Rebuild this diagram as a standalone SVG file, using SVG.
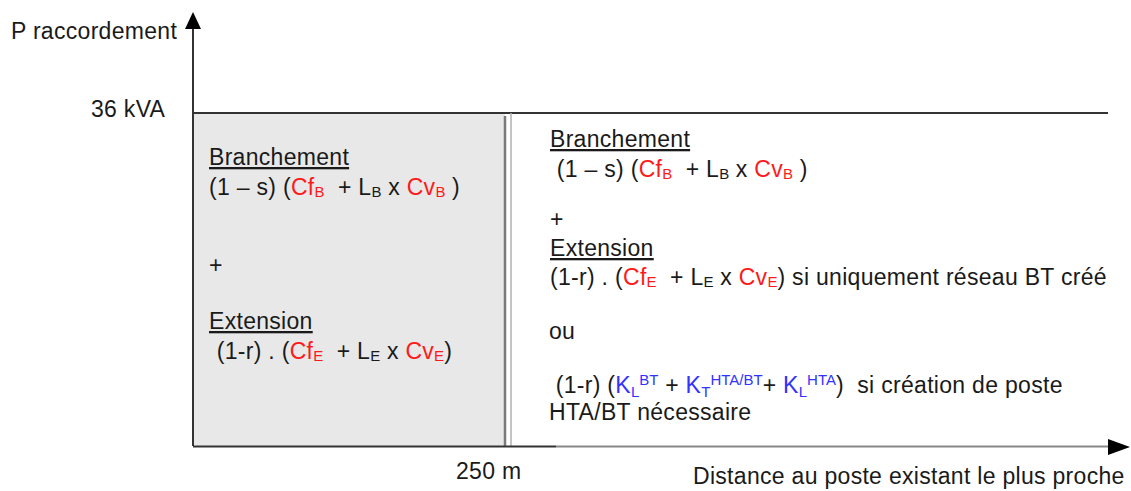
<svg xmlns="http://www.w3.org/2000/svg" width="1131" height="491" viewBox="0 0 1131 491">
<style>
text{font-family:"Liberation Sans",Arial,sans-serif;font-size:23px;letter-spacing:0.3px;fill:#1a1a1a}
.r{fill:#ff1a1a}
.b{fill:#3333ff}
.s{font-size:15px;letter-spacing:0}
.u{text-decoration:underline}
.ax{stroke:#333;stroke-width:2;fill:none}
</style>
<rect width="1131" height="491" fill="#fff"/>
<g id="zone-gauche">
<rect x="193" y="113" width="312" height="333" fill="#e8e8e8"/>
</g>
<g id="connectors">
<line class="ax" x1="193" y1="113" x2="1108" y2="113"/>
<line x1="505" y1="116" x2="505" y2="446" stroke="#7a7a7a" stroke-width="2.5"/>
<line x1="511" y1="113" x2="511" y2="446" stroke="#b0b0b0" stroke-width="1.5"/>
<line class="ax" x1="193" y1="446" x2="193" y2="26"/>
<polygon points="193,12 185,29 201,29" fill="#000"/>
<line class="ax" x1="193" y1="446.5" x2="556" y2="446.5"/>
<line x1="556" y1="446.5" x2="1110" y2="446.5" stroke="#888" stroke-width="2"/>
<polygon points="1130,447 1108,439 1108,455" fill="#000"/>
</g>
<g id="labels">
<text x="11" y="39">P raccordement</text>
<text x="91" y="117">36 kVA</text>
<text x="456" y="479">250 m</text>
<text x="693" y="484">Distance au poste existant le plus proche</text>
</g>
<g id="texte-gauche">
<text x="209" y="165" class="u">Branchement</text>
<text x="209" y="195" xml:space="preserve">(1 – s) (<tspan class="r">Cf</tspan><tspan class="r s" dy="2">B</tspan><tspan dy="-2">  + L</tspan><tspan class="s" dy="2">B</tspan><tspan dy="-2"> x </tspan><tspan class="r">Cv</tspan><tspan class="r s" dy="2">B</tspan><tspan dy="-2"> )</tspan></text>
<text x="209" y="273">+</text>
<text x="209" y="329" class="u">Extension</text>
<text x="210" y="359" xml:space="preserve"> (1-r) . (<tspan class="r">Cf</tspan><tspan class="r s" dy="2">E</tspan><tspan dy="-2">  + L</tspan><tspan class="s" dy="2">E</tspan><tspan dy="-2"> x </tspan><tspan class="r">Cv</tspan><tspan class="r s" dy="2">E</tspan><tspan dy="-2">)</tspan></text>
</g>
<g id="texte-droite">
<text x="550" y="147" class="u">Branchement</text>
<text x="550" y="177" xml:space="preserve"> (1 – s) (<tspan class="r">Cf</tspan><tspan class="r s" dy="2">B</tspan><tspan dy="-2">  + L</tspan><tspan class="s" dy="2">B</tspan><tspan dy="-2"> x </tspan><tspan class="r">Cv</tspan><tspan class="r s" dy="2">B</tspan><tspan dy="-2"> )</tspan></text>
<text x="550" y="227">+</text>
<text x="550" y="256" class="u">Extension</text>
<text x="550" y="285" xml:space="preserve">(1-r) . (<tspan class="r">Cf</tspan><tspan class="r s" dy="2">E</tspan><tspan dy="-2">  + L</tspan><tspan class="s" dy="2">E</tspan><tspan dy="-2"> x </tspan><tspan class="r">Cv</tspan><tspan class="r s" dy="2">E</tspan><tspan dy="-2">) si uniquement réseau BT créé</tspan></text>
<text x="549" y="339">ou</text>
<text x="549" y="393" xml:space="preserve"> (1-r) (<tspan class="b">K</tspan><tspan class="b s" dy="4">L</tspan><tspan class="b s" dy="-12">BT</tspan><tspan dy="8"> + </tspan><tspan class="b">K</tspan><tspan class="b s" dy="4">T</tspan><tspan class="b s" dy="-12">HTA/BT</tspan><tspan dy="8">+ </tspan><tspan class="b">K</tspan><tspan class="b s" dy="4">L</tspan><tspan class="b s" dy="-12">HTA</tspan><tspan dy="8">)  si création de poste</tspan></text>
<text x="549" y="420">HTA/BT nécessaire</text>
</g>
</svg>
